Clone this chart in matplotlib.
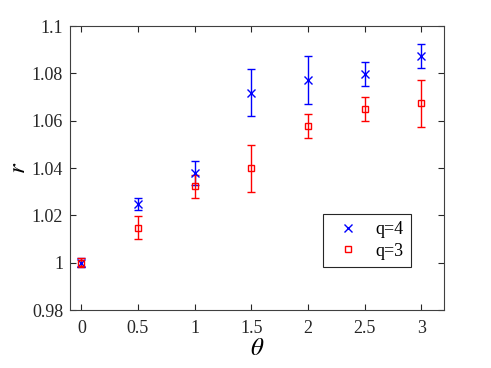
import matplotlib
matplotlib.use("Agg")
import matplotlib.pyplot as plt
from matplotlib.lines import Line2D

theta = [0, 0.5, 1, 1.5, 2, 2.5, 3]
r_q4 = [1.000, 1.0248, 1.0378, 1.0718, 1.0772, 1.0798, 1.0873]
e_q4 = [0.002, 0.0025, 0.005, 0.010, 0.010, 0.005, 0.005]
r_q3 = [1.000, 1.0148, 1.0322, 1.0398, 1.0578, 1.0648, 1.0673]
e_q3 = [0.002, 0.005, 0.005, 0.010, 0.005, 0.005, 0.010]
xticks = [0, 0.5, 1, 1.5, 2, 2.5, 3]
yticks = [0.98, 1.0, 1.02, 1.04, 1.06, 1.08, 1.1]
yticklabels = ["0.98", "1", "1.02", "1.04", "1.06", "1.08", "1.1"]

plt.rcParams['font.family'] = ['Liberation Serif', 'DejaVu Serif']
plt.rcParams['mathtext.fontset'] = 'stix'

fig = plt.figure(figsize=(4.91, 3.68), dpi=100)
ax = fig.add_axes([70/491, 1-310/368, 374/491, 284/368])

ax.errorbar(theta, r_q4, yerr=e_q4, fmt='x', color='#0000ff', ecolor='#0000ff',
            markersize=6, mew=1.0, elinewidth=1.0, capsize=3, capthick=1.0)
ax.errorbar(theta, r_q3, yerr=e_q3, fmt='s', color='#ff0000', ecolor='#ff0000',
            markersize=5, mfc='none', mew=1.0, elinewidth=1.0, capsize=3, capthick=1.0)

ax.set_xlim(-0.1, 3.2)
ax.set_ylim(0.98, 1.1)
ax.set_xticks(xticks)
ax.set_xticklabels([f"{t:g}" for t in xticks])
ax.set_yticks(yticks)
ax.set_yticklabels(yticklabels)
ax.tick_params(direction='in', top=True, right=True, length=4, width=0.8,
               labelsize=13, colors='#262626')
ax.tick_params(axis='x', pad=7)
ax.tick_params(axis='y', pad=5)
for s in ax.spines.values():
    s.set_color('#404040')
    s.set_linewidth(0.8)

ax.set_xlabel(r'$\theta$', fontsize=18, labelpad=1)
ax.set_ylabel(r'$r$', fontsize=18, labelpad=1)

handles = [Line2D([], [], ls='none', marker='x', color='#0000ff', markersize=6, mew=1.0),
           Line2D([], [], ls='none', marker='s', color='#ff0000', mfc='none', markersize=5, mew=1.0)]
leg = ax.legend(handles, ['q=4', 'q=3'], loc='upper left',
                bbox_to_anchor=((323-70)/374, 1-(214-26)/284),
                frameon=True, fancybox=False, edgecolor='#262626', fontsize=13,
                handlelength=2.0, handletextpad=0.5, borderpad=0.4, labelspacing=0.25,
                borderaxespad=0, framealpha=1)
leg.get_frame().set_linewidth(0.8)

fig.savefig("out.png", dpi=100)
